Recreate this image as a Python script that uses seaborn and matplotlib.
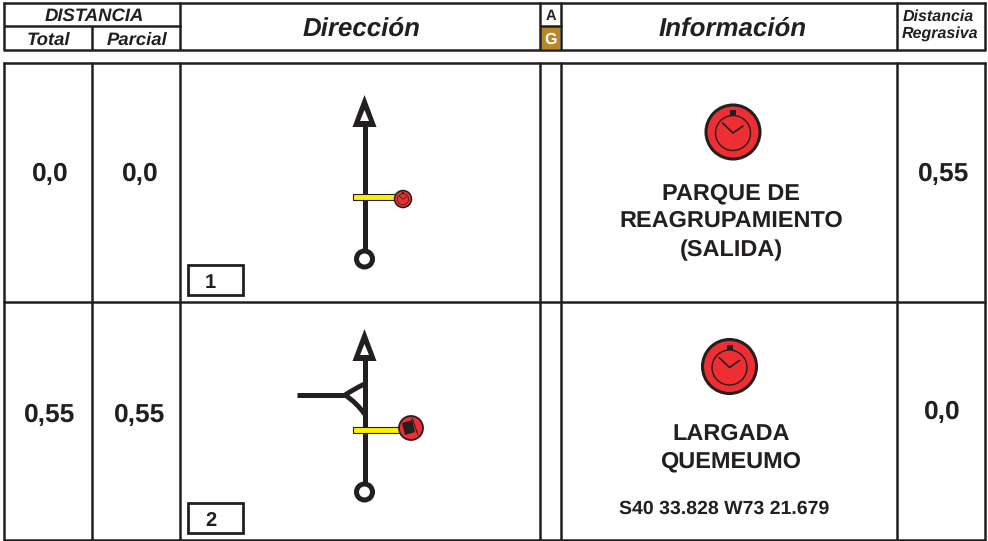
import matplotlib
matplotlib.use("Agg")
import matplotlib.pyplot as plt
import seaborn as sns
from matplotlib.patches import Circle, Polygon, PathPatch, Rectangle
from matplotlib.path import Path

sns.set_theme(style="white")
plt.rcParams['font.family'] = ['Liberation Sans', 'DejaVu Sans']
plt.rcParams['text.hinting'] = 'no_hinting'

total = ["0,0", "0,55"]
parcial = ["0,0", "0,55"]
regresiva = ["0,55", "0,0"]
casilla = ["1", "2"]
info_1 = ["PARQUE DE", "REAGRUPAMIENTO", "(SALIDA)"]
info_2 = ["LARGADA", "QUEMEUMO"]
coords = "S40 33.828 W73 21.679"

DARK = "#231f20"
RED = "#ee2e33"
YELLOW = "#fff200"
GOLD = "#b8862b"

fig = plt.figure(figsize=(9.88, 5.41), dpi=100)
ax = fig.add_axes([0, 0, 1, 1])
ax.set_xlim(0, 988)
ax.set_ylim(541, 0)
ax.axis("off")


def line(xs, ys, lw=1.8, color=DARK, cap="butt"):
    sns.lineplot(x=xs, y=ys, sort=False, estimator=None, color=color, lw=lw,
                 solid_capstyle=cap, ax=ax, legend=False)


def txt(x, y, s, size, style="normal", color=DARK):
    ax.text(x, y, s, fontsize=size, fontweight="bold", fontstyle=style, color=color,
            ha="center", va="center_baseline")


def road(tip, bottom):
    # vertical road with open arrow head and start ring
    line([364.5, 364.5], [tip + 28, bottom], lw=3.6)
    ax.add_patch(Polygon([(364.5, tip), (376.5, tip + 32), (352.5, tip + 32)], fc=DARK, ec="none", zorder=4))
    ax.add_patch(Polygon([(364.5, tip + 15), (369, tip + 26), (360, tip + 26)], fc="white", ec="none", zorder=5))
    ax.add_patch(Circle((364.5, bottom), 8, fc="white", ec=DARK, lw=3.6, zorder=4))


def yellow_bar(x1, y):
    ax.add_patch(Rectangle((353, y - 3.3), x1 - 353, 6.6, fc=YELLOW, ec=DARK, lw=0.8, zorder=5))


def clock(cx, cy, r, ring):
    ax.add_patch(Circle((cx, cy), r, fc=RED, ec=DARK, lw=ring, zorder=6))
    k = r / 27
    ax.add_patch(Circle((cx, cy + k), 17.5 * k, fc="none", ec=DARK, lw=max(0.5, 1.0 * k), zorder=7))
    ax.plot([cx - 10.5 * k, cx, cx + 10 * k], [cy - 9 * k, cy + k, cy - 6 * k],
            color=DARK, lw=max(0.5, 1.2 * k), zorder=7)
    ax.add_patch(Rectangle((cx - 3 * k, cy - 22 * k), 6 * k, 5 * k, fc=DARK, ec="none", zorder=7))


# header frame
for x in [4, 92, 180, 540, 561, 897, 985]:
    if x == 92:
        line([x, x], [26, 50])
    else:
        line([x, x], [2, 50])
line([3, 986], [2.5, 2.5])
line([3, 986], [50, 50])
line([4, 181], [26, 26])
line([540, 562], [26, 26])

ax.add_patch(Rectangle((541, 27), 19, 22, fc=GOLD, ec="none"))

txt(94.5, 14, "DISTANCIA", 13.3, "italic")
txt(48.5, 38.5, "Total", 13.3, "italic")
txt(137.5, 38.5, "Parcial", 13.3, "italic")
txt(361.5, 26, "Dirección", 18.6, "italic")
txt(551, 14.5, "A", 10.5)
txt(551, 38.5, "G", 11.5, color="white")
txt(733, 26, "Información", 18.6, "italic")
txt(938, 15.5, "Distancia", 11.5, "italic")
txt(940, 32, "Regrasiva", 11.5, "italic")

# body grid
for x in [4, 92, 180, 540, 561, 897, 985]:
    line([x, x], [62, 540])
line([3, 986], [63, 63])
line([3, 986], [302, 302])
line([3, 986], [540, 540])

# row values
for y, t, p, dx in zip([172, 413], total, parcial, [1.5, 0.5]):
    txt(49 + dx, y, t, 19)
    txt(139 + dx, y, p, 19)
for y, r, dx in zip([172, 410], regresiva, [1.5, 0.5]):
    txt(942 + dx, y, r, 19)

for y0, s in zip([265, 503], casilla):
    ax.add_patch(Rectangle((187.5, y0), 55, 30, fc="white", ec=DARK, lw=2.0))
    txt(210.5, y0 + 16, s, 14.5)

# row 1 roadbook sketch
road(95, 259)
yellow_bar(396, 197)
clock(403, 199, 8.5, 1.1)

# row 2 roadbook sketch
road(329, 492)
line([297, 346], [395, 395], lw=3.6)
curve = Path([(364.5, 384), (354, 389), (345, 395), (357, 403), (364.5, 414)],
             [Path.MOVETO, Path.CURVE3, Path.CURVE3, Path.CURVE3, Path.CURVE3])
ax.add_patch(PathPatch(curve, fc="none", ec=DARK, lw=3.5, zorder=3))
yellow_bar(400, 430)
ax.add_patch(Circle((411, 428), 12, fc=RED, ec=DARK, lw=1.3, zorder=6))
ax.add_patch(Polygon([(402, 423), (412, 420), (415, 432), (405, 435)], fc=DARK, ec="none", zorder=7))
ax.plot([412, 418], [418, 435], color=DARK, lw=0.8, zorder=7)

# information column
clock(733, 132, 27, 2.2)
for y, s in zip([191.5, 218.5, 247.5], info_1):
    txt(731, y, s, 16.9)

clock(729.5, 366.5, 27, 2.2)
for y, s in zip([431.5, 459.5], info_2):
    txt(731, y, s, 16.9)
txt(724, 507, coords, 14)

fig.savefig("out.png", dpi=100)
